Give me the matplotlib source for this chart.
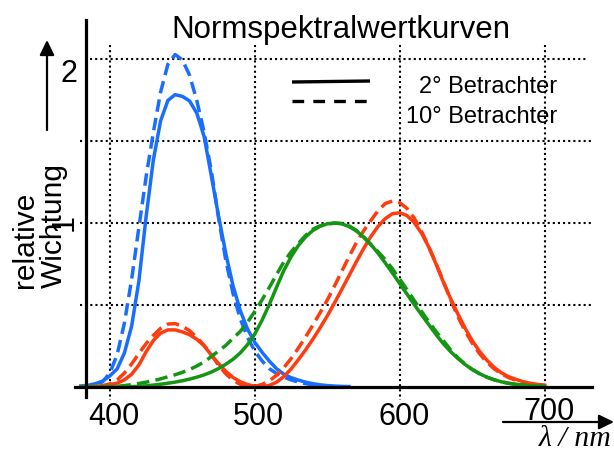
import matplotlib
matplotlib.use("Agg")
import matplotlib.pyplot as plt
from matplotlib.lines import Line2D
import numpy as np

plt.rcParams['font.family'] = ['Liberation Sans', 'DejaVu Sans']
plt.rcParams['lines.scale_dashes'] = False

# ---------------- data ----------------
wl = list(range(380, 705, 5))
wl_z = list(range(380, 570, 5))

x2 = [0.001368, 0.002236, 0.004243, 0.007650, 0.014310, 0.023190, 0.043510, 0.077630,
      0.134380, 0.214770, 0.283900, 0.328500, 0.348280, 0.348060, 0.336200, 0.318700,
      0.290800, 0.251100, 0.195360, 0.142100, 0.095640, 0.057950, 0.032010, 0.014700,
      0.004900, 0.002400, 0.009300, 0.029100, 0.063270, 0.109600, 0.165500, 0.225750,
      0.290400, 0.359700, 0.433450, 0.512050, 0.594500, 0.678400, 0.762100, 0.842500,
      0.916300, 0.978600, 1.026300, 1.056700, 1.062200, 1.045600, 1.002600, 0.938400,
      0.854450, 0.751400, 0.642400, 0.541900, 0.447900, 0.360800, 0.283500, 0.218700,
      0.164900, 0.121200, 0.087400, 0.063600, 0.046770, 0.032900, 0.022700, 0.015840,
      0.011359]
y2 = [0.000039, 0.000064, 0.000120, 0.000217, 0.000396, 0.000640, 0.001210, 0.002180,
      0.004000, 0.007300, 0.011600, 0.016840, 0.023000, 0.029800, 0.038000, 0.048000,
      0.060000, 0.073900, 0.090980, 0.112600, 0.139020, 0.169300, 0.208020, 0.258600,
      0.323000, 0.407300, 0.503000, 0.608200, 0.710000, 0.793200, 0.862000, 0.914850,
      0.954000, 0.980000, 0.994950, 1.000000, 0.995000, 0.978600, 0.952000, 0.915400,
      0.870000, 0.816300, 0.757000, 0.694900, 0.631000, 0.566800, 0.503000, 0.441200,
      0.381000, 0.321000, 0.265000, 0.217000, 0.175000, 0.138200, 0.107000, 0.081600,
      0.061000, 0.044580, 0.032000, 0.023200, 0.017000, 0.011920, 0.008210, 0.005723,
      0.004102]
z2 = [0.006450, 0.010550, 0.020050, 0.036210, 0.067850, 0.110200, 0.207400, 0.371300,
      0.645600, 1.039050, 1.385600, 1.622960, 1.747060, 1.782600, 1.772110, 1.744100,
      1.669200, 1.528100, 1.287640, 1.041900, 0.812950, 0.616200, 0.465180, 0.353300,
      0.272000, 0.212300, 0.158200, 0.111700, 0.078250, 0.057250, 0.042160, 0.029840,
      0.020300, 0.013400, 0.008750, 0.005750, 0.003900, 0.002750]

x10 = [0.000160, 0.000662, 0.002362, 0.007242, 0.019110, 0.043400, 0.084736, 0.140638,
       0.204492, 0.264737, 0.314679, 0.357719, 0.383734, 0.386726, 0.370702, 0.342957,
       0.302273, 0.254085, 0.195618, 0.132349, 0.080507, 0.041072, 0.016172, 0.005132,
       0.003816, 0.015444, 0.037465, 0.071358, 0.117749, 0.172953, 0.236491, 0.304213,
       0.376772, 0.451584, 0.529826, 0.616053, 0.705224, 0.793832, 0.878655, 0.951162,
       1.014160, 1.074300, 1.118520, 1.134300, 1.123990, 1.089100, 1.030480, 0.950740,
       0.856297, 0.754930, 0.647467, 0.535110, 0.431567, 0.343690, 0.268329, 0.204300,
       0.152568, 0.112210, 0.081261, 0.057930, 0.040851, 0.028623, 0.019941, 0.013842,
       0.009577]
y10 = [0.000017, 0.000072, 0.000253, 0.000769, 0.002004, 0.004509, 0.008756, 0.014456,
       0.021391, 0.029497, 0.038676, 0.049602, 0.062077, 0.074704, 0.089456, 0.106256,
       0.128201, 0.152761, 0.185190, 0.219940, 0.253589, 0.297665, 0.339133, 0.395379,
       0.460777, 0.531360, 0.606741, 0.685660, 0.761757, 0.823330, 0.875211, 0.923810,
       0.961988, 0.982200, 0.991761, 0.999110, 0.997340, 0.982380, 0.955552, 0.915175,
       0.868934, 0.825623, 0.777405, 0.720353, 0.658341, 0.593878, 0.527963, 0.461834,
       0.398057, 0.339554, 0.283493, 0.228254, 0.179828, 0.140211, 0.107633, 0.081187,
       0.060281, 0.044096, 0.031800, 0.022602, 0.015905, 0.011116, 0.007749, 0.005375,
       0.003734]
z10 = [0.000705, 0.002928, 0.010482, 0.032344, 0.086011, 0.197120, 0.389366, 0.656760,
       0.972542, 1.282500, 1.553480, 1.798500, 1.967280, 2.027300, 1.994800, 1.900700,
       1.745370, 1.554900, 1.317560, 1.030200, 0.772125, 0.570060, 0.415254, 0.302356,
       0.218502, 0.159249, 0.112044, 0.082248, 0.060709, 0.043050, 0.030451, 0.020584,
       0.013676, 0.007918, 0.003988, 0.001091, 0.000000, 0.000000]

x_ticks = [400, 500, 600, 700]
x_ticklabels = ["400", "500", "600", "700"]
y_grid = [0.5, 1.0, 1.5, 2.0]

title = "Normspektralwertkurven"
legend_labels = ["2° Betrachter", "10° Betrachter"]

# ---------------- layout ----------------
W, H = 614, 453
A, B = 1.449, -469.7          # pixel x = A*lambda + B
Y0, S = 387.0, 164.0          # pixel y = Y0 - S*value

def lam(px):
    return (px - B) / A

def val(py):
    return (Y0 - py) / S

def fp(x, y):
    return (x / W, 1 - y / H)

BLUE = '#1a6eff'
GREEN = '#149614'
RED = '#ff3c0f'

fig = plt.figure(figsize=(W / 100, H / 100), dpi=100)
fig.patch.set_facecolor('white')
ax = fig.add_axes([0, 0, 1, 1])
ax.set_xlim(lam(0), lam(W))
ax.set_ylim(val(H), val(0))
ax.axis('off')

# grid
dot = dict(color='black', lw=1.5, linestyle=(0, (1.5, 2.2)), dash_capstyle='butt')
for g in y_grid:
    x0 = 90 if g == 2.0 else 80
    x1 = 587 if g == 2.0 else 593
    ax.plot([lam(x0), lam(x1)], [g, g], zorder=1, **dot)
for t in x_ticks:
    ax.plot([t, t], [val(45), val(400)], zorder=1, **dot)

# axes lines
fig.add_artist(Line2D([fp(86, 20)[0], fp(86, 397)[0]], [fp(86, 20)[1], fp(86, 397)[1]],
                      color='black', lw=2.3, zorder=5))
fig.add_artist(Line2D([fp(75, Y0)[0], fp(592, Y0)[0]], [fp(75, Y0)[1], fp(592, Y0)[1]],
                      color='black', lw=2.3, zorder=5))

# curves
lw = 2.5
dash = (0, (9, 4.5))
ax.plot(wl_z, z10, color=BLUE, lw=lw, linestyle=dash, zorder=3)
ax.plot(wl_z, z2, color=BLUE, lw=lw, zorder=3)
ax.plot(wl, x10, color=RED, lw=lw, linestyle=dash, zorder=3)
ax.plot(wl, x2, color=RED, lw=lw, zorder=3)
ax.plot(wl, y10, color=GREEN, lw=lw, linestyle=dash, zorder=4)
ax.plot(wl, y2, color=GREEN, lw=lw, zorder=4)

# x tick labels (the 700 label sits slightly higher in the reference)
label_base = [425, 425, 425, 420]
for t, lab, yb in zip(x_ticks, x_ticklabels, label_base):
    ax.text(t + 4 / A, val(yb), lab, ha='center', va='baseline', fontsize=22)

# y tick labels
fig.text(*fp(77, 82), "2", ha='right', va='baseline', fontsize=22)
fig.text(*fp(65, 222), "1", ha='center', va='center', fontsize=22, rotation=90)

# y label
fig.text(*fp(33, 288), "relative", rotation=90, rotation_mode='anchor',
         ha='left', va='baseline', fontsize=21.5)
fig.text(*fp(62, 288), "Wichtung", rotation=90, rotation_mode='anchor',
         ha='left', va='baseline', fontsize=21.5)

# title
fig.text(*fp(341, 38), title, ha='center', va='baseline', fontsize=22.5)

# legend
fig.add_artist(Line2D([fp(292, 82)[0], fp(370, 81)[0]], [fp(292, 82)[1], fp(370, 81)[1]],
                      color='black', lw=2.4, solid_capstyle='butt'))
fig.add_artist(Line2D([fp(292, 101)[0], fp(367, 101)[0]], [fp(292, 101)[1], fp(367, 101)[1]],
                      color='black', lw=2.4, linestyle=(0, (8.4, 6.6)), dash_capstyle='butt'))
fig.text(*fp(557, 93), legend_labels[0], ha='right', va='baseline', fontsize=17)
fig.text(*fp(557, 123), legend_labels[1], ha='right', va='baseline', fontsize=17)

# arrows
arrow = dict(arrowstyle='-|>,head_length=0.45,head_width=0.22', color='black', lw=1.6,
             mutation_scale=20, shrinkA=0, shrinkB=0)
ax.annotate('', xy=(614, H - 422), xytext=(503, H - 422), xycoords='figure pixels',
            textcoords='figure pixels', arrowprops=arrow)
ax.annotate('', xy=(47, H - 40), xytext=(47, H - 130), xycoords='figure pixels',
            textcoords='figure pixels', arrowprops=arrow)

# axis label
fig.text(*fp(612, 446), "λ / nm", ha='right', va='baseline', fontsize=21.5,
         family=['Liberation Serif', 'DejaVu Serif'], style='italic')

fig.savefig('out.png', dpi=100, facecolor='white')
